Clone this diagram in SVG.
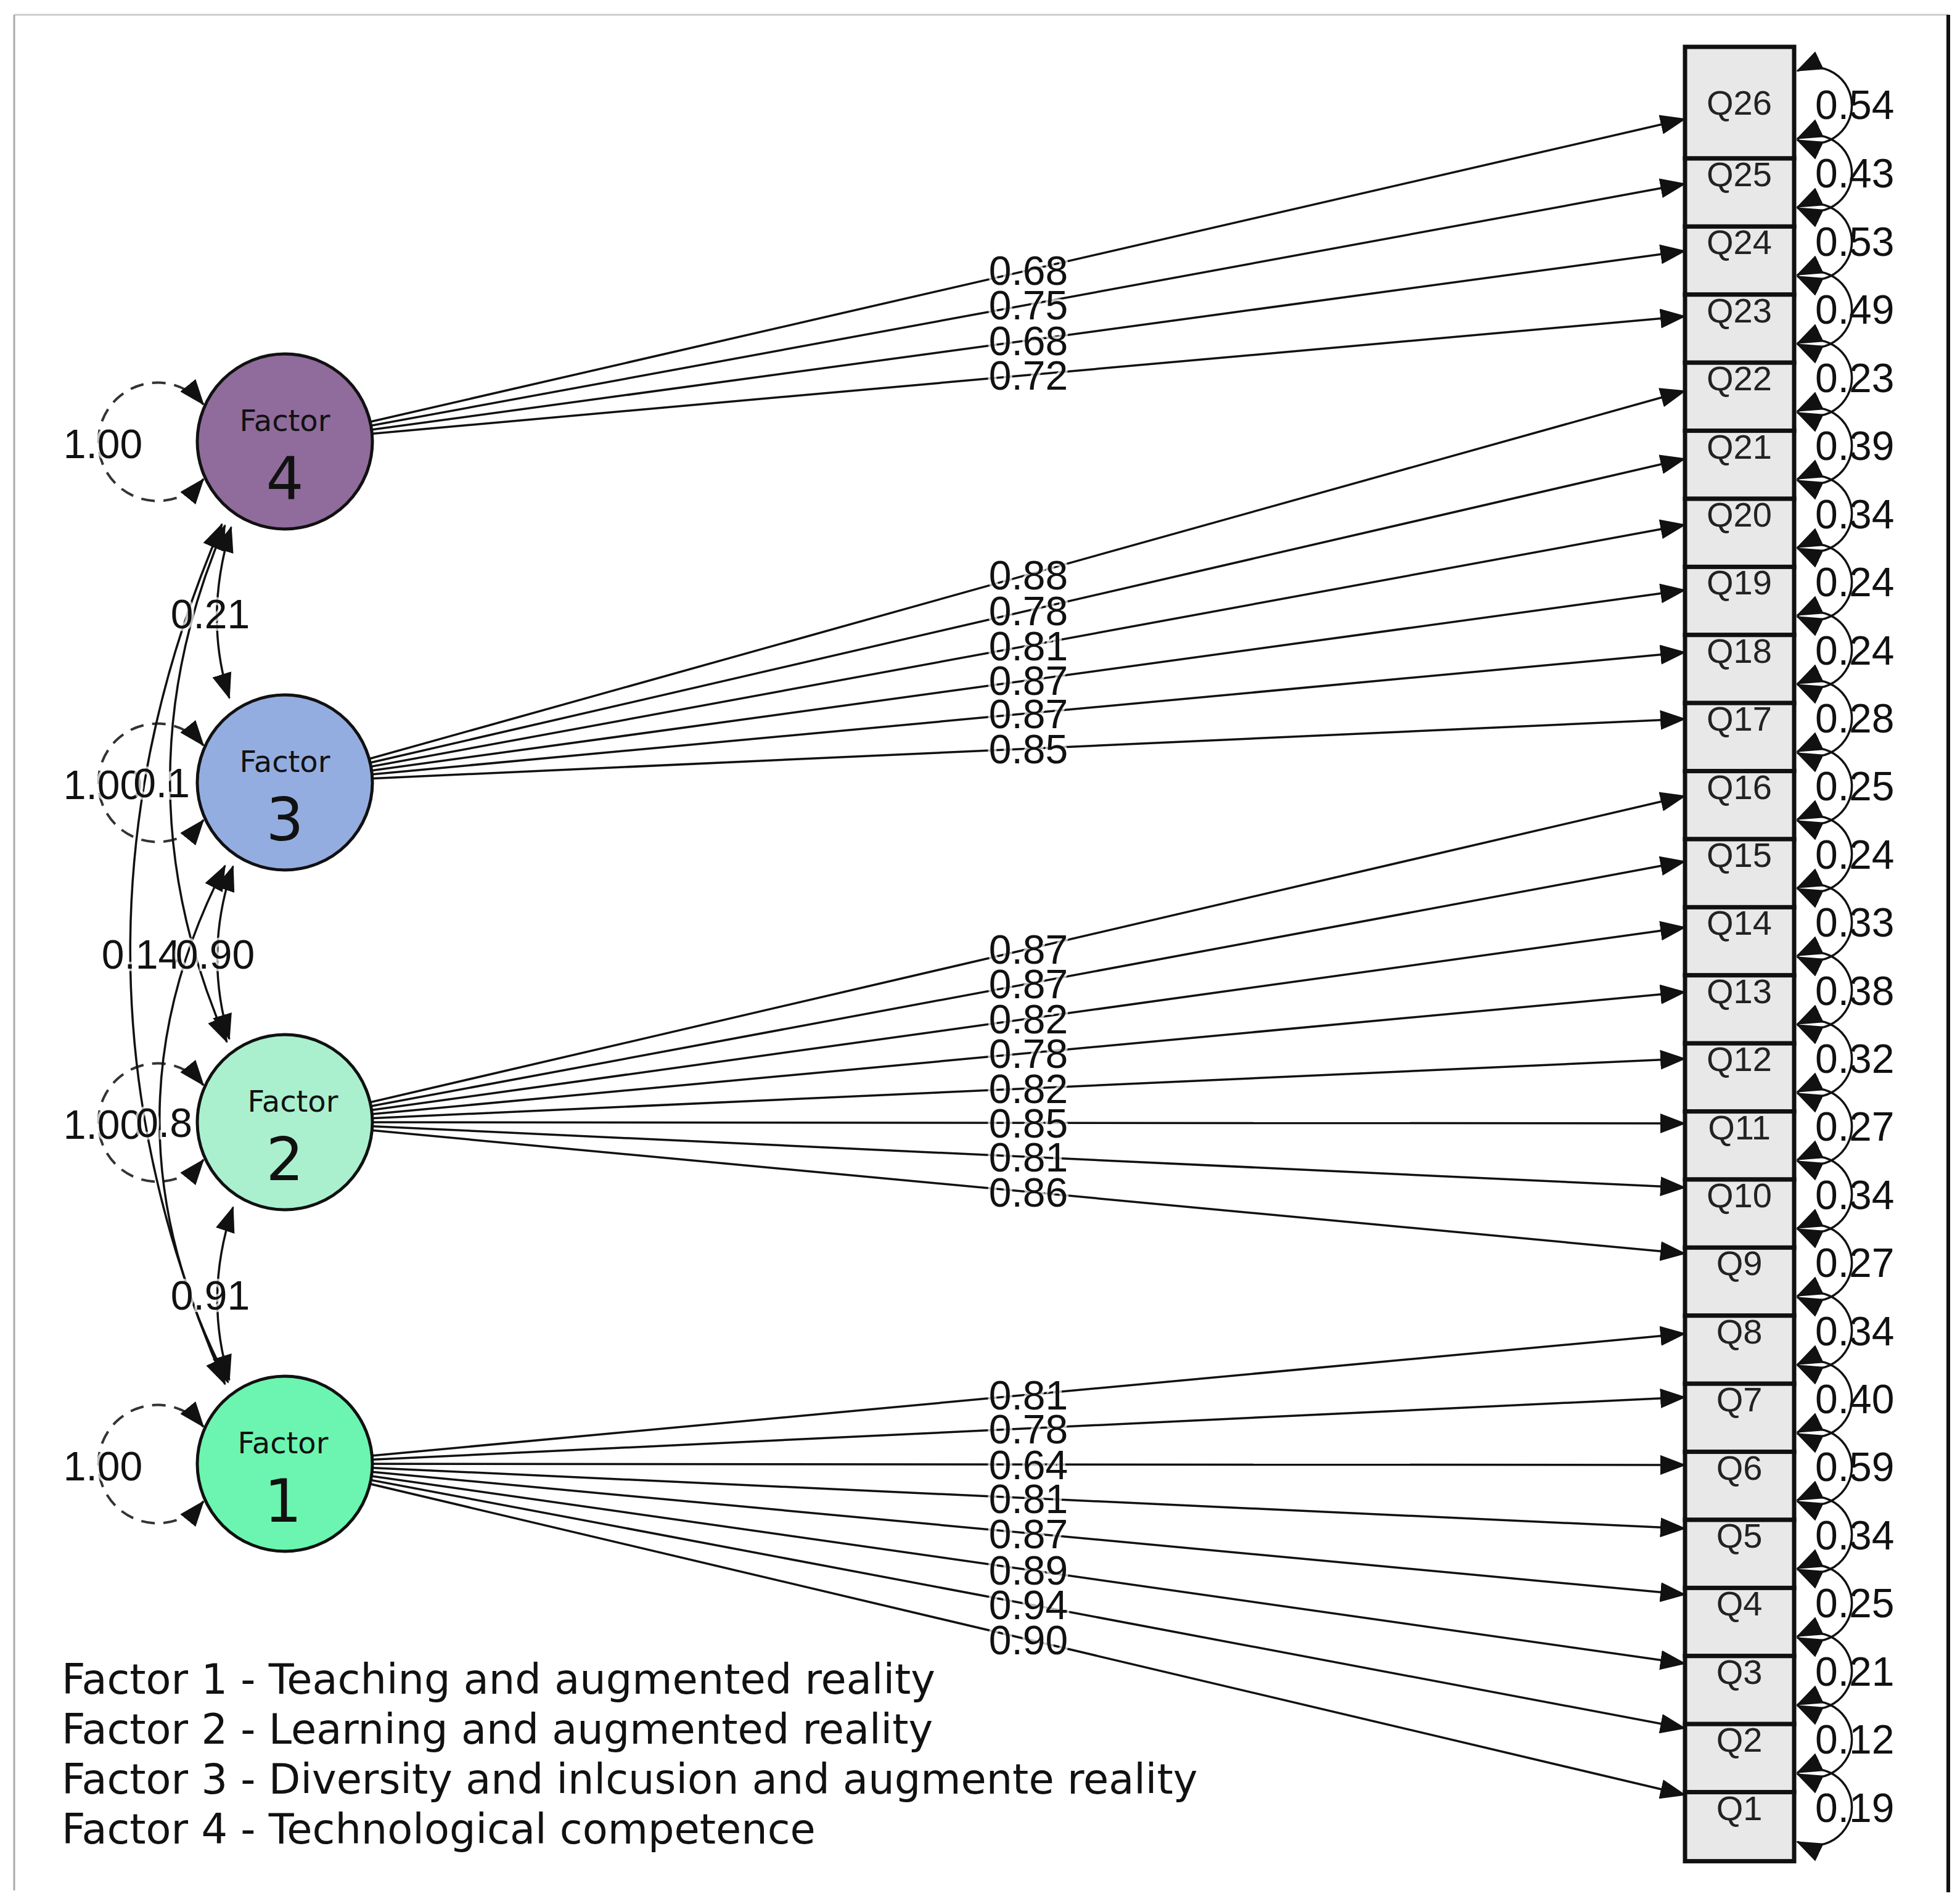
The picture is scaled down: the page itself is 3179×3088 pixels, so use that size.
<svg xmlns="http://www.w3.org/2000/svg" width="3179" height="3088" viewBox="0 0 3179 3088">
<style>
.num{font-family:"Liberation Sans",Arial,sans-serif;font-size:66px;fill:#111}
.lab{font-family:"Liberation Sans",Arial,sans-serif;font-size:66px;fill:#111;text-anchor:middle;paint-order:stroke;stroke:#fff;stroke-width:8px;stroke-opacity:0.7}
.q{font-family:"Liberation Sans",Arial,sans-serif;font-size:56px;fill:#222;text-anchor:middle}
.ln{stroke:#111;stroke-width:3.5;fill:none;marker-end:url(#ah)}
.cv{stroke:#111;stroke-width:3.5;fill:none;marker-start:url(#ah);marker-end:url(#ah)}
.lp{stroke:#111;stroke-width:3.5;fill:none;marker-start:url(#ah);marker-end:url(#ah)}
.vl{stroke:#333;stroke-width:4;fill:none;stroke-dasharray:22 14;marker-start:url(#ah);marker-end:url(#ah)}
.box{fill:#e8e8e8;stroke:#111;stroke-width:7}
.fc{stroke:#111;stroke-width:5}
.ft{font-family:"DejaVu Sans",sans-serif;font-size:48px;fill:#111;text-anchor:middle}
.fn{font-family:"DejaVu Sans",sans-serif;font-size:96px;fill:#111;text-anchor:middle}
.leg{font-family:"DejaVu Sans",sans-serif;font-size:67px;fill:#111}
</style>
<defs>
<marker id="ah" markerUnits="userSpaceOnUse" markerWidth="42" markerHeight="32" refX="40" refY="16" orient="auto-start-reverse">
<path d="M0,0 L42,16 L0,32 Z" fill="#111"/>
</marker>
</defs>
<rect width="3179" height="3088" fill="#fff"/>
<g id="frame">
<line x1="23" y1="24" x2="3160" y2="24" stroke="#ccc" stroke-width="3"/>
<line x1="23" y1="24" x2="23" y2="3066" stroke="#aaa" stroke-width="3"/>
<line x1="3160" y1="24" x2="3160" y2="3069" stroke="#111" stroke-width="6"/>
</g>
<g id="connectors">
<line class="ln" x1="462" y1="716" x2="2733" y2="193"/>
<line class="ln" x1="462" y1="716" x2="2733" y2="298"/>
<line class="ln" x1="462" y1="716" x2="2733" y2="407"/>
<line class="ln" x1="462" y1="716" x2="2733" y2="513"/>
<line class="ln" x1="462" y1="1269" x2="2733" y2="634"/>
<line class="ln" x1="462" y1="1269" x2="2733" y2="744"/>
<line class="ln" x1="462" y1="1269" x2="2733" y2="851"/>
<line class="ln" x1="462" y1="1269" x2="2733" y2="957"/>
<line class="ln" x1="462" y1="1269" x2="2733" y2="1058"/>
<line class="ln" x1="462" y1="1269" x2="2733" y2="1166"/>
<line class="ln" x1="462" y1="1820" x2="2733" y2="1291"/>
<line class="ln" x1="462" y1="1820" x2="2733" y2="1397"/>
<line class="ln" x1="462" y1="1820" x2="2733" y2="1504"/>
<line class="ln" x1="462" y1="1820" x2="2733" y2="1609"/>
<line class="ln" x1="462" y1="1820" x2="2733" y2="1717"/>
<line class="ln" x1="462" y1="1820" x2="2733" y2="1822"/>
<line class="ln" x1="462" y1="1820" x2="2733" y2="1926"/>
<line class="ln" x1="462" y1="1820" x2="2733" y2="2033"/>
<line class="ln" x1="462" y1="2374" x2="2733" y2="2163"/>
<line class="ln" x1="462" y1="2374" x2="2733" y2="2266"/>
<line class="ln" x1="462" y1="2374" x2="2733" y2="2376"/>
<line class="ln" x1="462" y1="2374" x2="2733" y2="2479"/>
<line class="ln" x1="462" y1="2374" x2="2733" y2="2586"/>
<line class="ln" x1="462" y1="2374" x2="2733" y2="2698"/>
<line class="ln" x1="462" y1="2374" x2="2733" y2="2803"/>
<line class="ln" x1="462" y1="2374" x2="2733" y2="2911"/>
<path class="vl" d="M330,656 A96,96 0 1 0 330,777"/>
<path class="vl" d="M330,1209 A96,96 0 1 0 330,1330"/>
<path class="vl" d="M330,1760 A96,96 0 1 0 330,1881"/>
<path class="vl" d="M330,2314 A96,96 0 1 0 330,2435"/>
<path class="cv" d="M375,855 Q330,1000 372,1132"/>
<path class="cv" d="M378,1405 Q330,1545 372,1685"/>
<path class="cv" d="M378,1958 Q330,2100 372,2238"/>
<path class="cv" d="M365,852 Q185,1270 368,1690"/>
<path class="cv" d="M365,1404 Q150,1820 370,2242"/>
<path class="cv" d="M360,850 Q60,1547 365,2245"/>
</g>
<g id="factor4"><circle class="fc" cx="462" cy="716" r="142" fill="#8F6C9C"/><text class="ft" x="462" y="699">Factor</text><text class="fn" x="462" y="810">4</text></g>
<g id="factor3"><circle class="fc" cx="462" cy="1269" r="142" fill="#94ADE0"/><text class="ft" x="462" y="1252">Factor</text><text class="fn" x="462" y="1363">3</text></g>
<g id="factor2"><circle class="fc" cx="462" cy="1820" r="142" fill="#AAF0CF"/><text class="ft" x="475" y="1803">Factor</text><text class="fn" x="462" y="1914">2</text></g>
<g id="factor1"><circle class="fc" cx="462" cy="2374" r="142" fill="#6CF5B0"/><text class="ft" x="459" y="2357">Factor</text><text class="fn" x="459" y="2468">1</text></g>
<g id="factor-labels">
<text class="lab" x="167" y="743">1.00</text>
<text class="lab" x="167" y="1296">1.00</text>
<text class="lab" x="167" y="1847">1.00</text>
<text class="lab" x="167" y="2401">1.00</text>
<text class="lab" x="341" y="1019">0.21</text>
<text class="lab" x="262" y="1293">0.1</text>
<text class="lab" x="229" y="1571">0.14</text>
<text class="lab" x="349" y="1571">0.90</text>
<text class="lab" x="266" y="1844">0.8</text>
<text class="lab" x="341" y="2124">0.91</text>
</g>
<g id="loading-labels">
<text class="lab" x="1668" y="462">0.68</text>
<text class="lab" x="1668" y="518">0.75</text>
<text class="lab" x="1668" y="576">0.68</text>
<text class="lab" x="1668" y="632">0.72</text>
<text class="lab" x="1668" y="956">0.88</text>
<text class="lab" x="1668" y="1014">0.78</text>
<text class="lab" x="1668" y="1071">0.81</text>
<text class="lab" x="1668" y="1127">0.87</text>
<text class="lab" x="1668" y="1181">0.87</text>
<text class="lab" x="1668" y="1238">0.85</text>
<text class="lab" x="1668" y="1563">0.87</text>
<text class="lab" x="1668" y="1619">0.87</text>
<text class="lab" x="1668" y="1676">0.82</text>
<text class="lab" x="1668" y="1732">0.78</text>
<text class="lab" x="1668" y="1789">0.82</text>
<text class="lab" x="1668" y="1845">0.85</text>
<text class="lab" x="1668" y="1900">0.81</text>
<text class="lab" x="1668" y="1957">0.86</text>
<text class="lab" x="1668" y="2286">0.81</text>
<text class="lab" x="1668" y="2341">0.78</text>
<text class="lab" x="1668" y="2399">0.64</text>
<text class="lab" x="1668" y="2454">0.81</text>
<text class="lab" x="1668" y="2511">0.87</text>
<text class="lab" x="1668" y="2570">0.89</text>
<text class="lab" x="1668" y="2626">0.94</text>
<text class="lab" x="1668" y="2683">0.90</text>
</g>
<g id="residuals">
<path class="lp" d="M2915,115 A62,62 0 1 1 2915,227"/>
<path class="lp" d="M2915,225 A62,62 0 1 1 2915,337"/>
<path class="lp" d="M2915,336 A62,62 0 1 1 2915,448"/>
<path class="lp" d="M2915,446 A62,62 0 1 1 2915,558"/>
<path class="lp" d="M2915,557 A62,62 0 1 1 2915,669"/>
<path class="lp" d="M2915,667 A62,62 0 1 1 2915,779"/>
<path class="lp" d="M2915,777 A62,62 0 1 1 2915,889"/>
<path class="lp" d="M2915,888 A62,62 0 1 1 2915,1000"/>
<path class="lp" d="M2915,998 A62,62 0 1 1 2915,1110"/>
<path class="lp" d="M2915,1109 A62,62 0 1 1 2915,1221"/>
<path class="lp" d="M2915,1219 A62,62 0 1 1 2915,1331"/>
<path class="lp" d="M2915,1329 A62,62 0 1 1 2915,1441"/>
<path class="lp" d="M2915,1440 A62,62 0 1 1 2915,1552"/>
<path class="lp" d="M2915,1550 A62,62 0 1 1 2915,1662"/>
<path class="lp" d="M2915,1661 A62,62 0 1 1 2915,1773"/>
<path class="lp" d="M2915,1771 A62,62 0 1 1 2915,1883"/>
<path class="lp" d="M2915,1881 A62,62 0 1 1 2915,1993"/>
<path class="lp" d="M2915,1992 A62,62 0 1 1 2915,2104"/>
<path class="lp" d="M2915,2102 A62,62 0 1 1 2915,2214"/>
<path class="lp" d="M2915,2213 A62,62 0 1 1 2915,2325"/>
<path class="lp" d="M2915,2323 A62,62 0 1 1 2915,2435"/>
<path class="lp" d="M2915,2433 A62,62 0 1 1 2915,2545"/>
<path class="lp" d="M2915,2544 A62,62 0 1 1 2915,2656"/>
<path class="lp" d="M2915,2654 A62,62 0 1 1 2915,2766"/>
<path class="lp" d="M2915,2765 A62,62 0 1 1 2915,2877"/>
<path class="lp" d="M2915,2875 A62,62 0 1 1 2915,2987"/>
</g>
<g id="Q26"><rect class="box" x="2733" y="76" width="177" height="181"/><text class="q" x="2821" y="186">Q26</text><text class="num" x="2944" y="193">0.54</text></g>
<g id="Q25"><rect class="box" x="2733" y="257" width="177" height="110.4"/><text class="q" x="2821" y="302">Q25</text><text class="num" x="2944" y="304">0.43</text></g>
<g id="Q24"><rect class="box" x="2733" y="367.4" width="177" height="110.4"/><text class="q" x="2821" y="412">Q24</text><text class="num" x="2944" y="415">0.53</text></g>
<g id="Q23"><rect class="box" x="2733" y="477.8" width="177" height="110.4"/><text class="q" x="2821" y="523">Q23</text><text class="num" x="2944" y="525">0.49</text></g>
<g id="Q22"><rect class="box" x="2733" y="588.2" width="177" height="110.4"/><text class="q" x="2821" y="633">Q22</text><text class="num" x="2944" y="636">0.23</text></g>
<g id="Q21"><rect class="box" x="2733" y="698.6" width="177" height="110.4"/><text class="q" x="2821" y="744">Q21</text><text class="num" x="2944" y="746">0.39</text></g>
<g id="Q20"><rect class="box" x="2733" y="809" width="177" height="110.4"/><text class="q" x="2821" y="854">Q20</text><text class="num" x="2944" y="857">0.34</text></g>
<g id="Q19"><rect class="box" x="2733" y="919.4" width="177" height="110.4"/><text class="q" x="2821" y="964">Q19</text><text class="num" x="2944" y="967">0.24</text></g>
<g id="Q18"><rect class="box" x="2733" y="1029.8" width="177" height="110.4"/><text class="q" x="2821" y="1075">Q18</text><text class="num" x="2944" y="1078">0.24</text></g>
<g id="Q17"><rect class="box" x="2733" y="1140.2" width="177" height="110.4"/><text class="q" x="2821" y="1185">Q17</text><text class="num" x="2944" y="1188">0.28</text></g>
<g id="Q16"><rect class="box" x="2733" y="1250.6" width="177" height="110.4"/><text class="q" x="2821" y="1296">Q16</text><text class="num" x="2944" y="1298">0.25</text></g>
<g id="Q15"><rect class="box" x="2733" y="1361" width="177" height="110.4"/><text class="q" x="2821" y="1406">Q15</text><text class="num" x="2944" y="1409">0.24</text></g>
<g id="Q14"><rect class="box" x="2733" y="1471.4" width="177" height="110.4"/><text class="q" x="2821" y="1516">Q14</text><text class="num" x="2944" y="1519">0.33</text></g>
<g id="Q13"><rect class="box" x="2733" y="1581.8" width="177" height="110.4"/><text class="q" x="2821" y="1627">Q13</text><text class="num" x="2944" y="1630">0.38</text></g>
<g id="Q12"><rect class="box" x="2733" y="1692.2" width="177" height="110.4"/><text class="q" x="2821" y="1737">Q12</text><text class="num" x="2944" y="1740">0.32</text></g>
<g id="Q11"><rect class="box" x="2733" y="1802.6" width="177" height="110.4"/><text class="q" x="2821" y="1848">Q11</text><text class="num" x="2944" y="1850">0.27</text></g>
<g id="Q10"><rect class="box" x="2733" y="1913" width="177" height="110.4"/><text class="q" x="2821" y="1958">Q10</text><text class="num" x="2944" y="1961">0.34</text></g>
<g id="Q9"><rect class="box" x="2733" y="2023.4" width="177" height="110.4"/><text class="q" x="2821" y="2068">Q9</text><text class="num" x="2944" y="2071">0.27</text></g>
<g id="Q8"><rect class="box" x="2733" y="2133.8" width="177" height="110.4"/><text class="q" x="2821" y="2179">Q8</text><text class="num" x="2944" y="2182">0.34</text></g>
<g id="Q7"><rect class="box" x="2733" y="2244.2" width="177" height="110.4"/><text class="q" x="2821" y="2289">Q7</text><text class="num" x="2944" y="2292">0.40</text></g>
<g id="Q6"><rect class="box" x="2733" y="2354.6" width="177" height="110.4"/><text class="q" x="2821" y="2400">Q6</text><text class="num" x="2944" y="2402">0.59</text></g>
<g id="Q5"><rect class="box" x="2733" y="2465" width="177" height="110.4"/><text class="q" x="2821" y="2510">Q5</text><text class="num" x="2944" y="2513">0.34</text></g>
<g id="Q4"><rect class="box" x="2733" y="2575.4" width="177" height="110.4"/><text class="q" x="2821" y="2620">Q4</text><text class="num" x="2944" y="2623">0.25</text></g>
<g id="Q3"><rect class="box" x="2733" y="2685.8" width="177" height="110.4"/><text class="q" x="2821" y="2731">Q3</text><text class="num" x="2944" y="2734">0.21</text></g>
<g id="Q2"><rect class="box" x="2733" y="2796.2" width="177" height="110.4"/><text class="q" x="2821" y="2841">Q2</text><text class="num" x="2944" y="2844">0.12</text></g>
<g id="Q1"><rect class="box" x="2733" y="2906.6" width="177" height="112"/><text class="q" x="2821" y="2952">Q1</text><text class="num" x="2944" y="2955">0.19</text></g>
<g id="legend">
<text class="leg" x="100" y="2747">Factor 1 - Teaching and augmented reality</text>
<text class="leg" x="100" y="2828">Factor 2 - Learning and augmented reality</text>
<text class="leg" x="100" y="2909">Factor 3 - Diversity and inlcusion and augmente reality</text>
<text class="leg" x="100" y="2990">Factor 4 - Technological competence</text>
</g>
</svg>
